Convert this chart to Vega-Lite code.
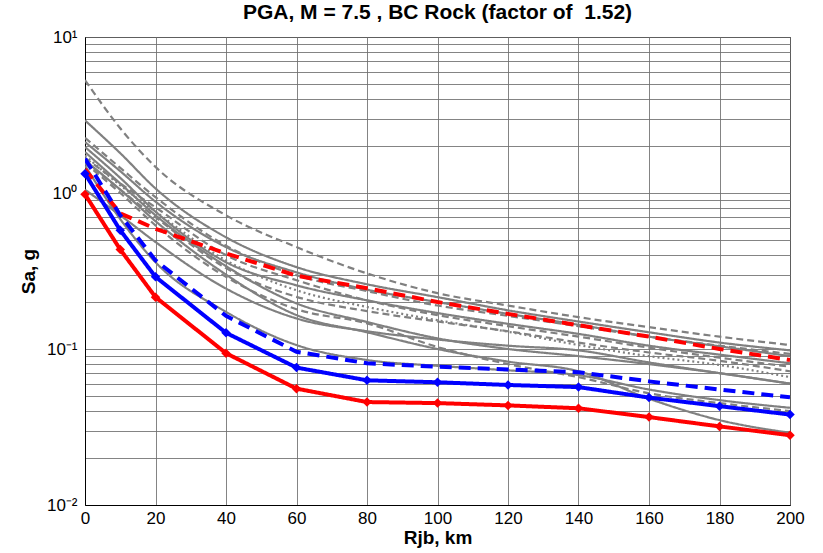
{
  "$schema": "https://vega.github.io/schema/vega-lite/v6.json",
  "width": 705,
  "height": 468,
  "autosize": "none",
  "padding": {"left": 85, "top": 37, "right": 33, "bottom": 48},
  "background": "white",
  "title": {
    "text": "PGA, M = 7.5 , BC Rock (factor of\u00a0 1.52)",
    "font": "Liberation Sans",
    "fontSize": 21,
    "fontWeight": "bold",
    "color": "black",
    "anchor": "middle",
    "frame": "group",
    "baseline": "alphabetic",
    "offset": -12
  },
  "config": {
    "font": "Liberation Sans",
    "view": {"stroke": "black", "strokeWidth": 1},
    "axis": {
      "domainColor": "black",
      "domainWidth": 1,
      "ticks": false,
      "grid": true,
      "gridColor": "#6e6e6e",
      "gridWidth": 1,
      "gridOpacity": 0.85,
      "labelFont": "Liberation Sans",
      "labelFontSize": 17,
      "labelColor": "black",
      "labelFlush": false,
      "labelOverlap": false,
      "titleFont": "Liberation Sans",
      "titleFontSize": 19,
      "titleFontWeight": "bold",
      "titleColor": "black"
    }
  },
  "resolve": {"scale": {"strokeDash": "independent", "color": "independent"}},
  "datasets": {
    "models": [
      {"model": "G1", "r": 0, "sa": 5.3}, {"model": "G1", "r": 10, "sa": 2.6}, {"model": "G1", "r": 20, "sa": 1.47}, {"model": "G1", "r": 40, "sa": 0.72}, {"model": "G1", "r": 60, "sa": 0.45}, {"model": "G1", "r": 80, "sa": 0.305}, {"model": "G1", "r": 100, "sa": 0.228}, {"model": "G1", "r": 120, "sa": 0.19}, {"model": "G1", "r": 140, "sa": 0.16}, {"model": "G1", "r": 160, "sa": 0.138}, {"model": "G1", "r": 180, "sa": 0.12}, {"model": "G1", "r": 200, "sa": 0.106},
      {"model": "G2", "r": 0, "sa": 2.92}, {"model": "G2", "r": 10, "sa": 1.8}, {"model": "G2", "r": 20, "sa": 1.07}, {"model": "G2", "r": 40, "sa": 0.52}, {"model": "G2", "r": 60, "sa": 0.335}, {"model": "G2", "r": 80, "sa": 0.26}, {"model": "G2", "r": 100, "sa": 0.215}, {"model": "G2", "r": 120, "sa": 0.177}, {"model": "G2", "r": 140, "sa": 0.15}, {"model": "G2", "r": 160, "sa": 0.128}, {"model": "G2", "r": 180, "sa": 0.11}, {"model": "G2", "r": 200, "sa": 0.098},
      {"model": "G3", "r": 0, "sa": 2.26}, {"model": "G3", "r": 10, "sa": 1.45}, {"model": "G3", "r": 20, "sa": 0.94}, {"model": "G3", "r": 40, "sa": 0.46}, {"model": "G3", "r": 60, "sa": 0.297}, {"model": "G3", "r": 80, "sa": 0.235}, {"model": "G3", "r": 100, "sa": 0.19}, {"model": "G3", "r": 120, "sa": 0.163}, {"model": "G3", "r": 140, "sa": 0.14}, {"model": "G3", "r": 160, "sa": 0.12}, {"model": "G3", "r": 180, "sa": 0.105}, {"model": "G3", "r": 200, "sa": 0.093},
      {"model": "G4", "r": 0, "sa": 2.12}, {"model": "G4", "r": 10, "sa": 1.38}, {"model": "G4", "r": 20, "sa": 0.88}, {"model": "G4", "r": 40, "sa": 0.45}, {"model": "G4", "r": 60, "sa": 0.31}, {"model": "G4", "r": 80, "sa": 0.24}, {"model": "G4", "r": 100, "sa": 0.2}, {"model": "G4", "r": 120, "sa": 0.168}, {"model": "G4", "r": 140, "sa": 0.143}, {"model": "G4", "r": 160, "sa": 0.12}, {"model": "G4", "r": 180, "sa": 0.104}, {"model": "G4", "r": 200, "sa": 0.09},
      {"model": "G5", "r": 0, "sa": 1.68}, {"model": "G5", "r": 10, "sa": 1.15}, {"model": "G5", "r": 20, "sa": 0.81}, {"model": "G5", "r": 40, "sa": 0.4}, {"model": "G5", "r": 60, "sa": 0.276}, {"model": "G5", "r": 80, "sa": 0.205}, {"model": "G5", "r": 100, "sa": 0.165}, {"model": "G5", "r": 120, "sa": 0.14}, {"model": "G5", "r": 140, "sa": 0.12}, {"model": "G5", "r": 160, "sa": 0.102}, {"model": "G5", "r": 180, "sa": 0.088}, {"model": "G5", "r": 200, "sa": 0.077},
      {"model": "G6", "r": 0, "sa": 1.74}, {"model": "G6", "r": 10, "sa": 1.12}, {"model": "G6", "r": 20, "sa": 0.76}, {"model": "G6", "r": 40, "sa": 0.37}, {"model": "G6", "r": 60, "sa": 0.238}, {"model": "G6", "r": 80, "sa": 0.186}, {"model": "G6", "r": 100, "sa": 0.153}, {"model": "G6", "r": 120, "sa": 0.129}, {"model": "G6", "r": 140, "sa": 0.106}, {"model": "G6", "r": 160, "sa": 0.09}, {"model": "G6", "r": 180, "sa": 0.079}, {"model": "G6", "r": 200, "sa": 0.066},
      {"model": "G7", "r": 0, "sa": 1.97}, {"model": "G7", "r": 10, "sa": 1.25}, {"model": "G7", "r": 20, "sa": 0.76}, {"model": "G7", "r": 40, "sa": 0.36}, {"model": "G7", "r": 60, "sa": 0.256}, {"model": "G7", "r": 80, "sa": 0.205}, {"model": "G7", "r": 100, "sa": 0.17}, {"model": "G7", "r": 120, "sa": 0.145}, {"model": "G7", "r": 140, "sa": 0.125}, {"model": "G7", "r": 160, "sa": 0.105}, {"model": "G7", "r": 180, "sa": 0.092}, {"model": "G7", "r": 200, "sa": 0.081},
      {"model": "G8", "r": 0, "sa": 1.6}, {"model": "G8", "r": 10, "sa": 1.05}, {"model": "G8", "r": 20, "sa": 0.7}, {"model": "G8", "r": 40, "sa": 0.33}, {"model": "G8", "r": 60, "sa": 0.216}, {"model": "G8", "r": 80, "sa": 0.175}, {"model": "G8", "r": 100, "sa": 0.15}, {"model": "G8", "r": 120, "sa": 0.13}, {"model": "G8", "r": 140, "sa": 0.11}, {"model": "G8", "r": 160, "sa": 0.095}, {"model": "G8", "r": 180, "sa": 0.084}, {"model": "G8", "r": 200, "sa": 0.072},
      {"model": "G9", "r": 0, "sa": 1.83}, {"model": "G9", "r": 10, "sa": 1.15}, {"model": "G9", "r": 20, "sa": 0.72}, {"model": "G9", "r": 40, "sa": 0.34}, {"model": "G9", "r": 60, "sa": 0.196}, {"model": "G9", "r": 80, "sa": 0.149}, {"model": "G9", "r": 100, "sa": 0.117}, {"model": "G9", "r": 120, "sa": 0.1}, {"model": "G9", "r": 140, "sa": 0.09}, {"model": "G9", "r": 160, "sa": 0.08}, {"model": "G9", "r": 180, "sa": 0.07}, {"model": "G9", "r": 200, "sa": 0.06},
      {"model": "G10", "r": 0, "sa": 1.05}, {"model": "G10", "r": 10, "sa": 0.72}, {"model": "G10", "r": 20, "sa": 0.485}, {"model": "G10", "r": 40, "sa": 0.244}, {"model": "G10", "r": 60, "sa": 0.157}, {"model": "G10", "r": 80, "sa": 0.13}, {"model": "G10", "r": 100, "sa": 0.115}, {"model": "G10", "r": 120, "sa": 0.105}, {"model": "G10", "r": 140, "sa": 0.098}, {"model": "G10", "r": 160, "sa": 0.082}, {"model": "G10", "r": 180, "sa": 0.07}, {"model": "G10", "r": 200, "sa": 0.06},
      {"model": "G11", "r": 0, "sa": 1.55}, {"model": "G11", "r": 10, "sa": 1.0}, {"model": "G11", "r": 20, "sa": 0.62}, {"model": "G11", "r": 40, "sa": 0.29}, {"model": "G11", "r": 60, "sa": 0.18}, {"model": "G11", "r": 80, "sa": 0.146}, {"model": "G11", "r": 100, "sa": 0.103}, {"model": "G11", "r": 120, "sa": 0.08}, {"model": "G11", "r": 140, "sa": 0.066}, {"model": "G11", "r": 160, "sa": 0.052}, {"model": "G11", "r": 180, "sa": 0.045}, {"model": "G11", "r": 200, "sa": 0.04},
      {"model": "G12", "r": 0, "sa": 1.5}, {"model": "G12", "r": 10, "sa": 0.68}, {"model": "G12", "r": 20, "sa": 0.36}, {"model": "G12", "r": 40, "sa": 0.173}, {"model": "G12", "r": 60, "sa": 0.106}, {"model": "G12", "r": 80, "sa": 0.085}, {"model": "G12", "r": 100, "sa": 0.078}, {"model": "G12", "r": 120, "sa": 0.073}, {"model": "G12", "r": 140, "sa": 0.068}, {"model": "G12", "r": 160, "sa": 0.055}, {"model": "G12", "r": 180, "sa": 0.047}, {"model": "G12", "r": 200, "sa": 0.042},
      {"model": "G13", "r": 0, "sa": 1.62}, {"model": "G13", "r": 10, "sa": 1.05}, {"model": "G13", "r": 20, "sa": 0.66}, {"model": "G13", "r": 40, "sa": 0.3}, {"model": "G13", "r": 60, "sa": 0.165}, {"model": "G13", "r": 80, "sa": 0.128}, {"model": "G13", "r": 100, "sa": 0.1}, {"model": "G13", "r": 120, "sa": 0.083}, {"model": "G13", "r": 140, "sa": 0.072}, {"model": "G13", "r": 160, "sa": 0.048}, {"model": "G13", "r": 180, "sa": 0.035}, {"model": "G13", "r": 200, "sa": 0.029}
    ],
    "targets": [
      {"curve": "Red dashed", "r": 0, "sa": 1.42}, {"curve": "Red dashed", "r": 10, "sa": 0.74}, {"curve": "Red dashed", "r": 20, "sa": 0.59}, {"curve": "Red dashed", "r": 40, "sa": 0.41}, {"curve": "Red dashed", "r": 60, "sa": 0.295}, {"curve": "Red dashed", "r": 80, "sa": 0.245}, {"curve": "Red dashed", "r": 100, "sa": 0.2}, {"curve": "Red dashed", "r": 120, "sa": 0.168}, {"curve": "Red dashed", "r": 140, "sa": 0.142}, {"curve": "Red dashed", "r": 160, "sa": 0.12}, {"curve": "Red dashed", "r": 180, "sa": 0.1}, {"curve": "Red dashed", "r": 200, "sa": 0.085},
      {"curve": "Blue dashed", "r": 0, "sa": 1.66}, {"curve": "Blue dashed", "r": 10, "sa": 0.72}, {"curve": "Blue dashed", "r": 20, "sa": 0.37}, {"curve": "Blue dashed", "r": 40, "sa": 0.163}, {"curve": "Blue dashed", "r": 60, "sa": 0.096}, {"curve": "Blue dashed", "r": 80, "sa": 0.081}, {"curve": "Blue dashed", "r": 100, "sa": 0.077}, {"curve": "Blue dashed", "r": 120, "sa": 0.074}, {"curve": "Blue dashed", "r": 140, "sa": 0.071}, {"curve": "Blue dashed", "r": 160, "sa": 0.062}, {"curve": "Blue dashed", "r": 180, "sa": 0.055}, {"curve": "Blue dashed", "r": 200, "sa": 0.049},
      {"curve": "Blue solid", "r": 0, "sa": 1.33}, {"curve": "Blue solid", "r": 10, "sa": 0.577}, {"curve": "Blue solid", "r": 20, "sa": 0.29}, {"curve": "Blue solid", "r": 40, "sa": 0.127}, {"curve": "Blue solid", "r": 60, "sa": 0.076}, {"curve": "Blue solid", "r": 80, "sa": 0.063}, {"curve": "Blue solid", "r": 100, "sa": 0.0612}, {"curve": "Blue solid", "r": 120, "sa": 0.0588}, {"curve": "Blue solid", "r": 140, "sa": 0.057}, {"curve": "Blue solid", "r": 160, "sa": 0.0488}, {"curve": "Blue solid", "r": 180, "sa": 0.043}, {"curve": "Blue solid", "r": 200, "sa": 0.038},
      {"curve": "Red solid", "r": 0, "sa": 0.98}, {"curve": "Red solid", "r": 10, "sa": 0.434}, {"curve": "Red solid", "r": 20, "sa": 0.215}, {"curve": "Red solid", "r": 40, "sa": 0.094}, {"curve": "Red solid", "r": 60, "sa": 0.0557}, {"curve": "Red solid", "r": 80, "sa": 0.0457}, {"curve": "Red solid", "r": 100, "sa": 0.045}, {"curve": "Red solid", "r": 120, "sa": 0.0435}, {"curve": "Red solid", "r": 140, "sa": 0.0417}, {"curve": "Red solid", "r": 160, "sa": 0.0366}, {"curve": "Red solid", "r": 180, "sa": 0.0319}, {"curve": "Red solid", "r": 200, "sa": 0.028}
    ]
  },
  "encoding": {
    "x": {
      "field": "r",
      "type": "quantitative",
      "scale": {"domain": [0, 200], "nice": false},
      "axis": {
        "title": "Rjb, km",
        "values": [0, 20, 40, 60, 80, 100, 120, 140, 160, 180, 200],
        "labelPadding": 5,
        "titlePadding": 2
      }
    },
    "y": {
      "field": "sa",
      "type": "quantitative",
      "scale": {"type": "log", "domain": [0.01, 10], "nice": false},
      "axis": {
        "title": "Sa, g",
        "values": [0.01, 0.02, 0.03, 0.04, 0.05, 0.06, 0.07, 0.08, 0.09, 0.1, 0.2, 0.3, 0.4, 0.5, 0.6, 0.7, 0.8, 0.9, 1, 2, 3, 4, 5, 6, 7, 8, 9, 10],
        "labelExpr": "datum.value == 10 ? '10¹' : datum.value == 1 ? '10⁰' : datum.value == 0.1 ? '10⁻¹' : datum.value == 0.01 ? '10⁻²' : ''",
        "labelPadding": 8,
        "titlePadding": 8
      }
    }
  },
  "layer": [
    {
      "data": {"name": "models"},
      "mark": {"type": "line", "color": "#808080", "strokeWidth": 2.2, "interpolate": "monotone", "clip": true},
      "encoding": {
        "detail": {"field": "model"},
        "strokeDash": {
          "field": "model",
          "type": "nominal",
          "legend": null,
          "scale": {
            "domain": ["G1", "G2", "G3", "G4", "G5", "G6", "G7", "G8", "G9", "G10", "G11", "G12", "G13"],
            "range": [[7, 4], [1, 0], [7, 4], [1, 0], [7, 4], [2, 3], [1, 0], [7, 4], [1, 0], [1, 0], [7, 4], [1, 0], [1, 0]]
          }
        }
      }
    },
    {
      "data": {"name": "targets"},
      "layer": [
        {
          "mark": {"type": "line", "strokeWidth": 4, "clip": true},
          "encoding": {
            "color": {
              "field": "curve",
              "type": "nominal",
              "legend": null,
              "scale": {"domain": ["Red dashed", "Blue dashed", "Blue solid", "Red solid"], "range": ["#ff0000", "#0000ff", "#0000ff", "#ff0000"]}
            },
            "strokeDash": {
              "field": "curve",
              "type": "nominal",
              "legend": null,
              "scale": {"domain": ["Red dashed", "Blue dashed", "Blue solid", "Red solid"], "range": [[12, 7], [12, 7], [1, 0], [1, 0]]}
            }
          }
        },
        {
          "transform": [{"filter": "datum.curve == 'Blue solid' || datum.curve == 'Red solid'"}],
          "mark": {"type": "point", "shape": "diamond", "filled": true, "size": 90, "opacity": 1},
          "encoding": {
            "color": {
              "field": "curve",
              "type": "nominal",
              "legend": null,
              "scale": {"domain": ["Red dashed", "Blue dashed", "Blue solid", "Red solid"], "range": ["#ff0000", "#0000ff", "#0000ff", "#ff0000"]}
            }
          }
        }
      ]
    }
  ]
}
